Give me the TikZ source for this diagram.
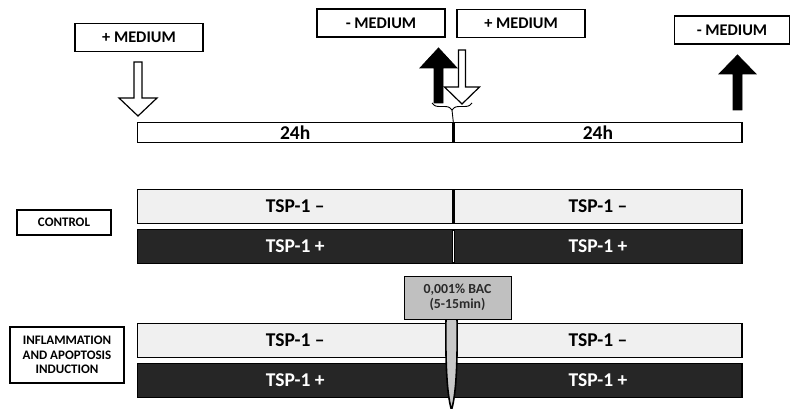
\documentclass[tikz,border=0pt]{standalone}
\usepackage{fontspec}
\setmainfont{Carlito}
\usetikzlibrary{positioning,decorations.pathreplacing}
\definecolor{barlight}{HTML}{F0F0F0}
\definecolor{bardark}{HTML}{262626}
\definecolor{bacgray}{HTML}{C0C0C0}
\definecolor{needlegray}{HTML}{C8C8C8}
\definecolor{textgray}{HTML}{2A2A2A}
\tikzset{
  mediumbox/.style={draw, line width=1.2pt, minimum width=128pt, minimum height=28pt, inner sep=0pt, font=\bfseries\fontsize{16.3}{18}\selectfont},
  daybox/.style={draw, line width=1.3pt, minimum height=20pt, inner sep=0pt, font=\bfseries\fontsize{19.5}{20}\selectfont},
  lightbar/.style={draw, fill=barlight, line width=1.3pt, minimum height=34pt, inner sep=0pt, font=\bfseries\fontsize{19.5}{20}\selectfont},
  darkbar/.style={draw, fill=bardark, text=white, line width=1.3pt, minimum height=34pt, inner sep=0pt, font=\bfseries\fontsize{19.5}{20}\selectfont},
  groupbox/.style={draw, line width=1.2pt, inner sep=0pt, align=center, font=\bfseries\fontsize{13}{14.5}\selectfont},
  bacbox/.style={draw, fill=bacgray, text=textgray, line width=1pt, minimum width=107pt, minimum height=43pt, inner sep=0pt, align=center, font=\bfseries\fontsize{13.8}{15.5}\selectfont},
  hollowarrow/.style={draw, fill=white, line width=1.2pt, line join=miter},
  solidarrow/.style={draw, fill=black, line width=0.8pt, line join=miter},
  needle/.style={draw, fill=needlegray, line width=1.6pt}
}
\begin{document}
\begin{tikzpicture}[x=1pt,y=-1pt]
  \useasboundingbox (0,0) rectangle (790,409);
  % medium boxes
  \node[mediumbox] (addfirst) at (139,37.5) {+ MEDIUM};
  \node[mediumbox] (removefirst) at (381,23) {- MEDIUM};
  \node[mediumbox] (addsecond) at (521,23.5) {+ MEDIUM};
  \node[mediumbox, minimum width=115pt] (removesecond) at (732,30) {- MEDIUM};
  % time line
  \node[daybox, minimum width=315pt, anchor=north west] (day1) at (137,122) {24h};
  \node[daybox, minimum width=288pt, anchor=west] (day2) at (day1.east) {24h};
  % arrows
  \draw[hollowarrow] (134,62) -- (142,62) -- (142,98) -- (157,98) -- (138,116) -- (119,98) -- (134,98) -- cycle;
  \draw[solidarrow] (434,103) -- (434,68) -- (420,68) -- (438.5,48) -- (457,68) -- (443,68) -- (443,103) -- cycle;
  \draw[hollowarrow] (458.5,50) -- (465.5,50) -- (465.5,87) -- (479.5,87) -- (462,104) -- (444.5,87) -- (458.5,87) -- cycle;
  \draw[solidarrow] (733,110) -- (733,74) -- (719,74) -- (737.5,55) -- (756,74) -- (742,74) -- (742,110) -- cycle;
  % brace over the change of medium
  \draw[decorate, decoration={brace, amplitude=7pt}, line width=0.9pt] (472,103) -- (432,103);
  \coordinate (bracetip) at (452,110);
  \draw[line width=0.9pt] (bracetip) -- (day1.north east);
  % control
  \node[lightbar, minimum width=315pt, anchor=north west] (ctlneg1) at (137,189) {TSP-1 –};
  \node[lightbar, minimum width=288pt, anchor=west] (ctlneg2) at (ctlneg1.east) {TSP-1 –};
  \node[darkbar, minimum width=315pt, below=4.7pt of ctlneg1] (ctlpos1) {TSP-1 +};
  \node[darkbar, minimum width=288pt, anchor=west] (ctlpos2) at (ctlpos1.east) {TSP-1 +};
  \draw[white, line width=1.6pt] ([yshift=-2pt]ctlpos1.north east) -- ([yshift=2pt]ctlpos1.south east);
  \node[groupbox, minimum width=94pt, minimum height=25pt] (control) at (64,222.5) {CONTROL};
  % inflammation and apoptosis induction
  \node[lightbar, minimum width=315pt, anchor=north west] (infneg1) at (137,323) {TSP-1 –};
  \node[lightbar, minimum width=288pt, anchor=west] (infneg2) at (infneg1.east) {TSP-1 –};
  \node[darkbar, minimum width=315pt, below=4.7pt of infneg1] (infpos1) {TSP-1 +};
  \node[darkbar, minimum width=288pt, anchor=west] (infpos2) at (infpos1.east) {TSP-1 +};
  \node[groupbox, minimum width=114pt, minimum height=56pt] (inflammation) at (67,355) {INFLAMMATION\\AND APOPTOSIS\\INDUCTION};
  % BAC treatment
  \draw[needle] (446,318) .. controls (445,382) and (449,401) .. (451.5,410) .. controls (454,401) and (458,382) .. (457,318);
  \node[bacbox] (bac) at (457.5,297.5) {0,001\% BAC\\(5-15min)};
\end{tikzpicture}
\end{document}
